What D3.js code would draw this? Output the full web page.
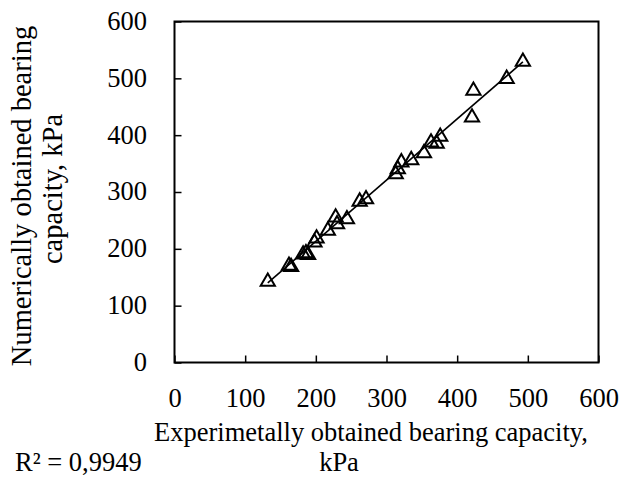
<!DOCTYPE html>
<html>
<head>
<meta charset="utf-8">
<script src="https://cdn.jsdelivr.net/npm/d3@7"></script>
<style>
  body { margin: 0; background: #fff; }
  text { font-family: "Liberation Serif", "Times New Roman", serif; fill: #000; }
</style>
</head>
<body>
<svg id="vimage" width="621" height="483"></svg>
<script>
// measured (experimental) vs numerical bearing capacity, kPa
var experimental = [132, 162, 165, 182, 186, 189, 198, 201, 217, 228, 230, 244, 262, 271, 313, 316, 321, 335, 353, 363, 371, 376, 421, 423, 470, 493];
var numerical    = [144, 172, 170, 192, 194, 191, 213, 220, 234, 257, 245, 254, 285, 289, 333, 342, 354, 358, 370, 389, 387, 399, 433, 480, 501, 531];
var tickValues = [0, 100, 200, 300, 400, 500, 600];
var r2Label = "R\u00b2 = 0,9949";

var svg = d3.select("#vimage");
var plotLeft = 174.5, plotRight = 598.5, plotTop = 21.5, plotBottom = 362.5;
var fontSize = "26.5px";

var x = d3.scaleLinear().domain([0, 600]).range([plotLeft, plotRight]);
var y = d3.scaleLinear().domain([0, 600]).range([plotBottom, plotTop]);

// frame
svg.append("rect")
    .attr("x", plotLeft).attr("y", plotTop)
    .attr("width", plotRight - plotLeft).attr("height", plotBottom - plotTop)
    .style("fill", "none").style("stroke", "#000").style("stroke-width", 2);

// axes with inward ticks
var xAxis = svg.append("g")
    .attr("transform", "translate(0," + plotBottom + ")")
    .call(d3.axisBottom(x).tickValues(tickValues).tickSize(-7));
var yAxis = svg.append("g")
    .attr("transform", "translate(" + plotLeft + ",0)")
    .call(d3.axisLeft(y).tickValues(tickValues).tickSize(-7));

[xAxis, yAxis].forEach(function(a) {
    a.select(".domain").remove();
    a.selectAll(".tick line").style("stroke", "#000").style("stroke-width", 1.5);
    a.selectAll(".tick text")
        .style("font-size", fontSize)
        .style("font-family", "Liberation Serif")
        .style("fill", "#000");
});
xAxis.selectAll(".tick text").attr("y", 44).attr("dy", 0);
yAxis.selectAll(".tick text").attr("x", -27.5).attr("dy", "0.3em");

// least squares trend line
var n = experimental.length;
var mx = d3.mean(experimental), my = d3.mean(numerical);
var sxy = 0, sxx = 0;
for (var i = 0; i < n; i++) {
    sxy += (experimental[i] - mx) * (numerical[i] - my);
    sxx += (experimental[i] - mx) * (experimental[i] - mx);
}
var slope = sxy / sxx, intercept = my - slope * mx;
var x0 = d3.min(experimental), x1 = d3.max(experimental);
svg.append("line")
    .attr("x1", x(x0)).attr("y1", y(slope * x0 + intercept))
    .attr("x2", x(x1)).attr("y2", y(slope * x1 + intercept))
    .style("stroke", "#000").style("stroke-width", 1.6);

// triangle markers
var tri = d3.symbol().type(d3.symbolTriangle).size(88);
svg.selectAll(".pt")
    .data(d3.range(n))
    .enter().append("path")
    .attr("class", "pt")
    .attr("d", tri)
    .attr("transform", function(i) { return "translate(" + x(experimental[i]) + "," + (y(numerical[i]) + 1) + ")"; })
    .style("fill", "none")
    .style("stroke", "#000")
    .style("stroke-width", 2);

// axis titles
svg.append("text")
    .attr("x", 371).attr("y", 441)
    .attr("text-anchor", "middle")
    .style("font-size", fontSize)
    .text("Experimetally obtained bearing capacity,");
svg.append("text")
    .attr("x", 339).attr("y", 471)
    .attr("text-anchor", "middle")
    .style("font-size", fontSize)
    .text("kPa");

svg.append("text")
    .attr("transform", "translate(31,196) rotate(-90)")
    .attr("text-anchor", "middle")
    .style("font-size", "28.5px")
    .text("Numerically obtained bearing");
svg.append("text")
    .attr("transform", "translate(62,189) rotate(-90)")
    .attr("text-anchor", "middle")
    .style("font-size", "28.5px")
    .text("capacity, kPa");

svg.append("text")
    .attr("x", 15).attr("y", 471)
    .style("font-size", fontSize)
    .text(r2Label);
</script>
</body>
</html>
